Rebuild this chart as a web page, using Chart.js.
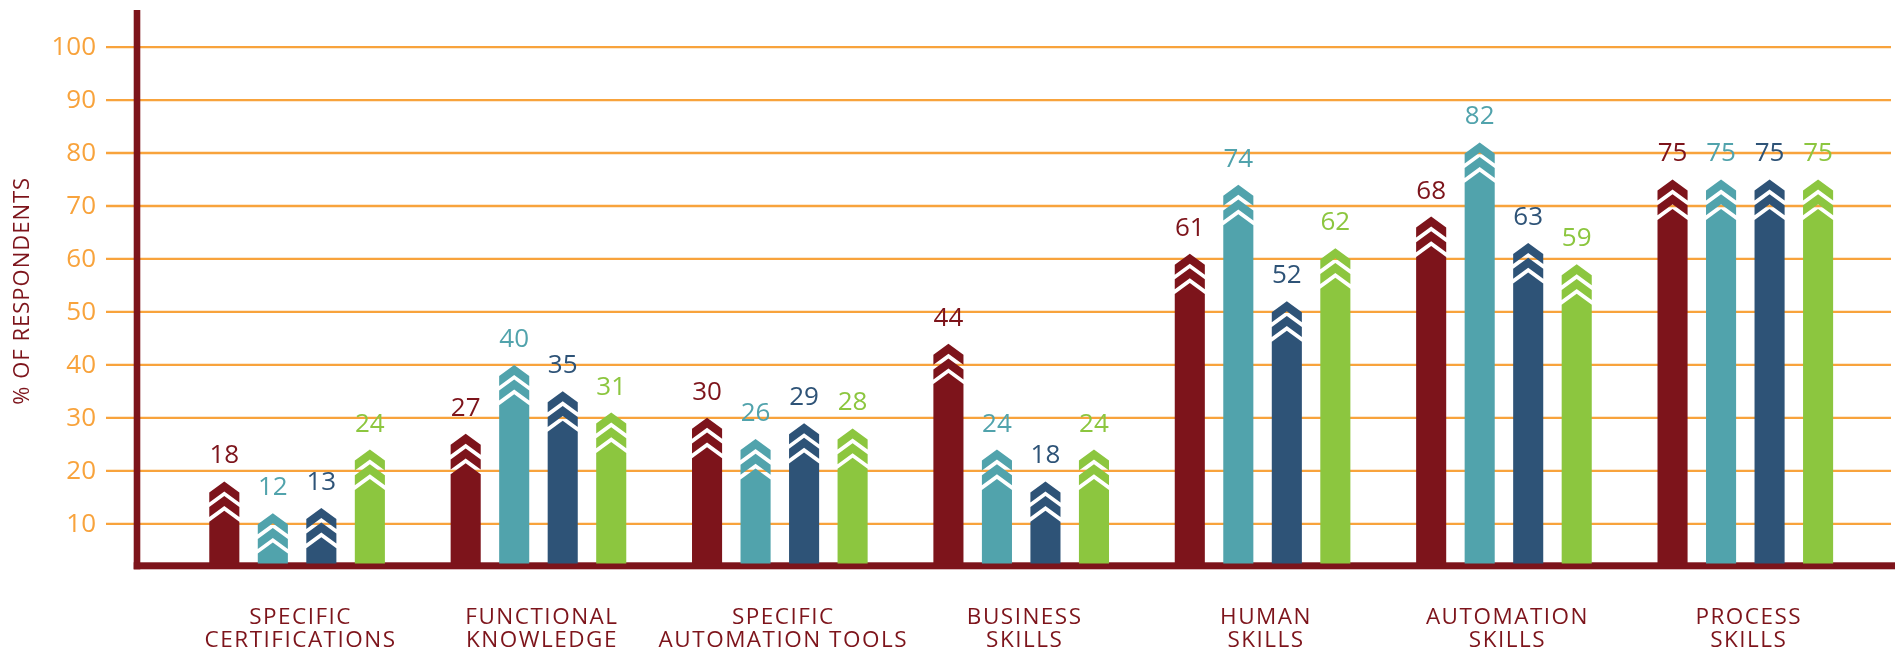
<!DOCTYPE html>
<html>
<head>
<meta charset="utf-8">
<title>Skills chart</title>
<script src="https://cdn.jsdelivr.net/npm/chart.js@4.4.1/dist/chart.umd.min.js"></script>
<style>
  html, body { margin: 0; padding: 0; background: #fff; }
  #wrap { width: 1900px; height: 653px; position: relative; }
</style>
</head>
<body>
<div id="wrap"><canvas id="skillsChart"></canvas></div>
<script>
// data
const categories = [
  ["SPECIFIC", "CERTIFICATIONS"],
  ["FUNCTIONAL", "KNOWLEDGE"],
  ["SPECIFIC", "AUTOMATION TOOLS"],
  ["BUSINESS", "SKILLS"],
  ["HUMAN", "SKILLS"],
  ["AUTOMATION", "SKILLS"],
  ["PROCESS", "SKILLS"]
];
const series1 = [18, 27, 30, 44, 61, 68, 75];
const series2 = [12, 40, 26, 24, 74, 82, 75];
const series3 = [13, 35, 29, 18, 52, 63, 75];
const series4 = [24, 31, 28, 24, 62, 59, 75];
const yTicks = [10, 20, 30, 40, 50, 60, 70, 80, 90, 100];
const yTitle = "% OF RESPONDENTS";

const colors = ["#7D141B", "#51A3AC", "#2E5377", "#8CC63F"];
const axisRed = "#7D141B";
const gridOrange = "#F8A33C";
const fontFamily = "'Open Sans', 'Noto Sans', sans-serif";

// gridlines, tick labels and axis texts
const frame = {
  id: "frame",
  beforeDatasetsDraw(chart) {
    const ctx = chart.ctx;
    const y = chart.scales.y;
    ctx.save();
    ctx.strokeStyle = gridOrange;
    ctx.lineWidth = 2.3;
    ctx.fillStyle = gridOrange;
    ctx.font = "26px " + fontFamily;
    ctx.textAlign = "right";
    ctx.textBaseline = "middle";
    yTicks.forEach((v) => {
      const py = y.getPixelForValue(v);
      ctx.beginPath();
      ctx.moveTo(106, py);
      ctx.lineTo(1891, py);
      ctx.stroke();
      ctx.fillText(String(v), 96, py + 1);
    });

    // y title
    ctx.fillStyle = axisRed;
    ctx.font = "22px " + fontFamily;
    ctx.letterSpacing = "1px";
    ctx.textAlign = "center";
    ctx.textBaseline = "alphabetic";
    ctx.save();
    ctx.translate(29.3, (chart.chartArea.top + chart.chartArea.bottom) / 2 + 4);
    ctx.rotate(-Math.PI / 2);
    ctx.fillText(yTitle, 0, 0);
    ctx.restore();

    // category labels
    const x = chart.scales.x;
    ctx.font = "22.5px " + fontFamily;
    ctx.letterSpacing = "1.5px";
    categories.forEach((lines, i) => {
      const px = x.getPixelForTick(i) + 3.5;
      lines.forEach((line, k) => {
        ctx.fillText(line, px, 623.5 + k * 23.6);
      });
    });
    ctx.restore();
  },
  afterDatasetsDraw(chart) {
    const ctx = chart.ctx;
    const area = chart.chartArea;
    ctx.save();
    ctx.fillStyle = axisRed;
    ctx.fillRect(133.7, area.top, 6.6, area.bottom + 5.8 - area.top);
    ctx.fillRect(133.7, area.bottom - 1.2, 1895 - 133.7, 7);
    ctx.restore();
  }
};

function chevron(ctx, cx, t, hw, d, h) {
  ctx.beginPath();
  ctx.moveTo(cx, t);
  ctx.lineTo(cx + hw, t + d);
  ctx.lineTo(cx + hw, t + d + h);
  ctx.lineTo(cx, t + h);
  ctx.lineTo(cx - hw, t + d + h);
  ctx.lineTo(cx - hw, t + d);
  ctx.closePath();
  ctx.fill();
}

// arrow-shaped bars with two chevrons and the value on top
const arrowBars = {
  id: "arrowBars",
  afterDatasetsDraw(chart) {
    const ctx = chart.ctx;
    const area = chart.chartArea;
    const d = 11, h = 10, step = 14.7;
    ctx.save();
    chart.data.datasets.forEach((ds, i) => {
      const meta = chart.getDatasetMeta(i);
      meta.data.forEach((bar, j) => {
        const p = bar.getProps(["x", "y", "width"], true);
        const hw = p.width / 2;
        const base = area.bottom;
        ctx.fillStyle = colors[i];
        chevron(ctx, p.x, p.y, hw, d, h);
        chevron(ctx, p.x, p.y + step, hw, d, h);
        const tb = p.y + step * 2;
        ctx.beginPath();
        ctx.moveTo(p.x, tb);
        ctx.lineTo(p.x + hw, tb + d);
        ctx.lineTo(p.x + hw, base);
        ctx.lineTo(p.x - hw, base);
        ctx.lineTo(p.x - hw, tb + d);
        ctx.closePath();
        ctx.fill();

        ctx.font = "26px " + fontFamily;
        ctx.textAlign = "center";
        ctx.textBaseline = "alphabetic";
        ctx.fillText(String(ds.data[j]), p.x, p.y - 18);
      });
    });
    ctx.restore();
  }
};

const ctx = document.getElementById("skillsChart").getContext("2d");

new Chart(ctx, {
  type: "bar",
  data: {
    labels: categories,
    datasets: [series1, series2, series3, series4].map((s, i) => ({
      label: "Series " + (i + 1),
      data: s,
      backgroundColor: "rgba(0,0,0,0)",
      borderWidth: 0,
      categoryPercentage: 0.804,
      barPercentage: 0.62
    }))
  },
  options: {
    responsive: true,
    maintainAspectRatio: false,
    animation: false,
    layout: { padding: { left: 0, top: 10, right: 34, bottom: 0 } },
    plugins: {
      legend: { display: false },
      tooltip: { enabled: false }
    },
    scales: {
      x: {
        grid: { display: false, drawTicks: false },
        border: { display: false },
        ticks: { display: false },
        afterFit(scale) {
          scale.height = 89.5;
        }
      },
      y: {
        min: 2.5,
        max: 107,
        grid: { display: false, drawTicks: false },
        border: { display: false },
        ticks: { display: false },
        afterFit(scale) {
          scale.width = 176.4;
        }
      }
    }
  },
  plugins: [frame, arrowBars]
});
</script>
</body>
</html>
